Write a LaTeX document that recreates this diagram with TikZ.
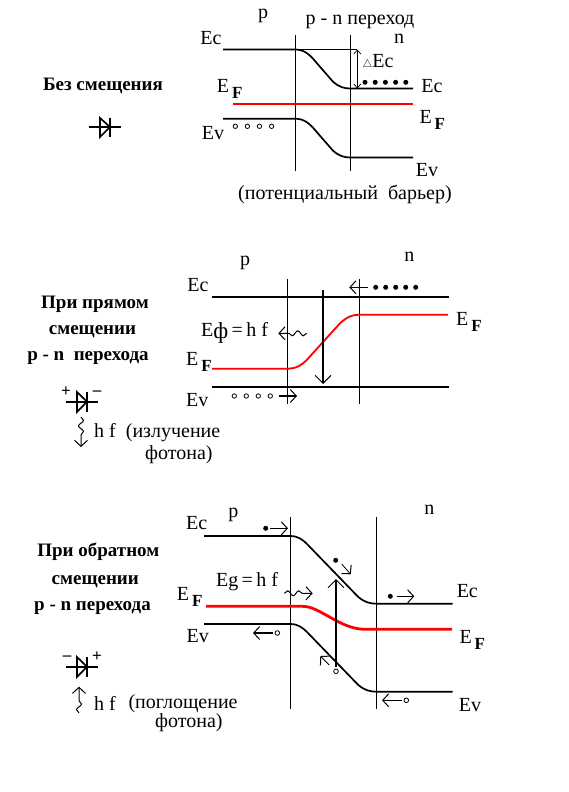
\documentclass[tikz,border=0pt]{standalone}
\usepackage{fontspec}
\setmainfont{Liberation Serif}
\usepackage{tikz}
\usetikzlibrary{arrows.meta, decorations.pathmorphing}

\newcommand{\EFermi}{E\hspace{3pt}\raisebox{-6pt}{\fontsize{17}{18}\selectfont\textbf{F}}}

\begin{document}
\begin{tikzpicture}[
    x=1pt, y=-1pt,
    every node/.style={inner sep=0pt, font=\fontsize{20}{22}\selectfont},
    lbl/.style={anchor=base, yshift=-1pt},
    lblw/.style={anchor=base west, yshift=-1pt},
    title/.style={anchor=base, font=\fontsize{19}{22}\selectfont\bfseries},
    sign/.style={anchor=base, font=\fontsize{17}{18}\selectfont\bfseries},
    band/.style={line width=1.7pt},
    fermi/.style={line width=2.7pt, red},
    junction/.style={line width=0.9pt},
    heavy/.style={line width=1.7pt},
    hole/.style={circle, draw, line width=0.8pt, minimum size=4.6pt},
    arr/.style={-{Straight Barb[length=6pt, width=13pt, line width=1pt]}, line width=1.4pt},
    bigarr/.style={-{Straight Barb[length=8pt, width=16pt, line width=1pt]}, line width=1.8pt},
    thinarr/.style={{Straight Barb[length=4pt, width=7pt]}-{Straight Barb[length=4pt, width=7pt]}, line width=0.7pt},
    photon/.style={-{Straight Barb[length=6pt, width=13pt, line width=1pt]}, line width=1pt, decorate, decoration={snake, segment length=11pt, amplitude=2.5pt, post length=9pt}}
]
    \useasboundingbox (0,0) rectangle (568,792);

    % Panel 1: no bias
    \node[title] (bias1) at (103,90) {Без смещения};
    \node[lbl] (p1) at (263,18) {p};
    \node[lbl] (junc1) at (360,24) {p - n переход};
    \node[lbl] (n1) at (399,42.7) {n};
    \node[lbl] (ecl1) at (211,43.5) {Ec};
    \node[lbl] (ecr1) at (432,91.7) {Ec};
    \node[lblw] (efl1) at (216.7,91.7) {\EFermi};
    \node[lblw] (efr1) at (419.3,122.7) {\EFermi};
    \node[lbl] (evl1) at (213,138.3) {Ev};
    \node[lbl] (evr1) at (427,175.7) {Ev};
    \node[lbl] (barrier) at (345,198.3) {(потенциальный\ \ барьер)};
    \node[lbl] (dec) at (378,66.7) {{\fontsize{11}{11}\selectfont$\triangle$}Ec};

    \draw[junction] (295.5,35) -- (295.5,170.7);
    \draw[junction] (350.7,35) -- (350.7,170.7);
    \draw[band] (223,49.5) -- (295.5,49.5) .. controls (305,49.5) and (311,56) .. (316.7,63) -- (333,81.7) .. controls (339,87) and (344,88.5) .. (350.7,88.5) -- (413,88.5);
    \draw[fermi] (232.7,104) -- (413,104);
    \draw[band] (223,118.7) -- (295.5,118.7) .. controls (305,118.7) and (311,125) .. (316.7,132) -- (333,150.7) .. controls (339,156) and (344,157.5) .. (350.7,157.5) -- (413,157.5);
    \coordinate (dectop) at (357.3,49.5);
    \coordinate (decbot) at (357.3,88.5);
    \draw[junction] (295.5,49.5) -- (dectop);
    \draw[thinarr] (dectop) -- (decbot);
    \fill (365,82.3) circle (2.5) ++(10.2,0) circle (2.5) ++(10.2,0) circle (2.5) ++(10.2,0) circle (2.5) ++(10.2,0) circle (2.5);
    \draw[line width=0.8pt] (235.3,126.3) circle (2.2) ++(12.1,0) circle (2.2) ++(12.1,0) circle (2.2) ++(12.1,0) circle (2.2);

    % Diode, panel 1
    \draw[heavy] (89,127) -- (121,127);
    \draw[heavy] (100,118) -- (100,137) -- (110,127) -- cycle;
    \draw[heavy] (110,118) -- (110,137);

    % Panel 2: forward bias
    \node[title] (bias2a) at (95,308) {При прямом};
    \node[title] (bias2b) at (92.5,334) {смещении};
    \node[title] (bias2c) at (88,360.7) {p - n\ \ перехода};
    \node[lbl] (p2) at (245,264) {p};
    \node[lbl] (n2) at (409.3,260.7) {n};
    \node[lbl] (ecl2) at (198,290.7) {Ec};
    \node[lblw] (eph) at (201,335.7) {E\raisebox{-2pt}{\fontsize{23}{24}\selectfont ф}\,=\,h f};
    \node[lblw] (efl2) at (186,364) {\EFermi};
    \node[lblw] (efr2) at (456,324) {\EFermi};
    \node[lbl] (evl2) at (197.3,405) {Ev};
    \node[lblw] (emit) at (94,436.7) {h f\ \ (излучение};
    \node[lblw] (phot2) at (145,458) {фотона)};
    \node[sign] (plus2) at (66,396) {+};
    \node[sign] (minus2) at (97,395) {–};

    \draw[junction] (287.3,279) -- (287.3,404.3);
    \draw[junction] (359.3,279) -- (359.3,404.3);
    \draw[band] (212,296.7) -- (449,296.7);
    \draw[line width=1.8pt, red] (212,368.7) -- (287.3,368.7) .. controls (296,368.7) and (302,365) .. (306.7,360) -- (340,323.3) .. controls (347,317) and (352,314.7) .. (359.3,314.7) -- (448,314.7);
    \draw[band] (212,386.7) -- (449,386.7);
    \coordinate (downtop) at (323,290);
    \coordinate (downbot) at (323,384);
    \draw[bigarr] (downtop) -- (downbot);
    \fill (375.7,287.3) circle (2.5) ++(10,0) circle (2.5) ++(10,0) circle (2.5) ++(10,0) circle (2.5) ++(10,0) circle (2.5);
    \coordinate (elstart) at (367.7,287.3);
    \coordinate (elend) at (349.3,287.3);
    \draw[arr] (elstart) -- (elend);
    \draw[line width=0.8pt] (234.3,396) circle (2.2) ++(12,0) circle (2.2) ++(12,0) circle (2.2) ++(12,0) circle (2.2);
    \coordinate (hstart) at (279,396);
    \coordinate (hend) at (297,396);
    \draw[arr] (hstart) -- (hend);
    \coordinate (phstart2) at (306.7,333.3);
    \coordinate (phend2) at (278.3,333.3);
    \draw[photon] (phstart2) -- (phend2);

    % Diode, panel 2
    \draw[heavy] (66,401.7) -- (98,401.7);
    \draw[heavy] (77,392) -- (77,412) -- (87,401.7) -- cycle;
    \draw[heavy] (87,392) -- (87,412);
    \coordinate (wstart2) at (81,417);
    \coordinate (wend2) at (81,447);
    \draw[photon] (wstart2) -- (wend2);

    % Panel 3: reverse bias
    \node[title] (bias3a) at (98.3,556) {При обратном};
    \node[title] (bias3b) at (95.3,584) {смещении};
    \node[title] (bias3c) at (92.5,610) {p - n перехода};
    \node[lbl] (p3) at (233.3,516) {p};
    \node[lbl] (n3) at (429.3,513.3) {n};
    \node[lbl] (ecl3) at (196.7,528.3) {Ec};
    \node[lblw] (egh) at (216,585) {Eg\,=\,h f};
    \node[lblw] (efl3) at (176.7,599.3) {\EFermi};
    \node[lbl] (ecr3) at (467.3,596.7) {Ec};
    \node[lblw] (efr3) at (459.3,642.7) {\EFermi};
    \node[lbl] (evl3) at (197.7,641.7) {Ev};
    \node[lbl] (evr3) at (470,710.7) {Ev};
    \node[lblw] (hf3) at (94,709.3) {h f};
    \node[lblw] (absorb) at (128.3,707.3) {(поглощение};
    \node[lblw] (phot3) at (155,726.7) {фотона)};
    \node[sign] (minus3) at (67,660) {–};
    \node[sign] (plus3) at (97,661) {+};

    \draw[junction] (290.5,517.3) -- (290.5,708.7);
    \draw[junction] (376.3,517.3) -- (376.3,708.7);
    \draw[band] (204,536) -- (290.5,536) .. controls (298,536) and (303,540) .. (307,544) -- (358,596.7) .. controls (364,602) and (370,603.7) .. (376.3,603.7) -- (452.7,603.7);
    \draw[line width=2.8pt, red] (206,606.3) -- (302.7,606.3) .. controls (320,606.3) and (340,629.3) .. (365,629.3) -- (452,629.3);
    \draw[band] (204,624) -- (290.5,624) .. controls (298,624) and (303,628) .. (307,632) -- (358,684.7) .. controls (364,690) and (370,691.7) .. (376.3,691.7) -- (452.7,691.7);
    \node[hole] (holeup) at (336,671.3) {};
    \coordinate (uptop) at (336,579);
    \draw[bigarr] (holeup.north) ++(0,-2) -- (uptop);

    % Carriers, panel 3
    \fill (265.7,528.3) circle (2.5) (335.7,560.3) circle (2.5) (390.3,596.3) circle (2.5);
    \coordinate (e1s) at (270,528.3);
    \coordinate (e1e) at (288,528.3);
    \draw[arr] (e1s) -- (e1e);
    \coordinate (e2s) at (341.7,564);
    \coordinate (e2e) at (350.7,574.3);
    \draw[arr, line width=0.8pt] (e2s) -- (e2e);
    \coordinate (e3s) at (397,596.3);
    \coordinate (e3e) at (414.3,596.3);
    \draw[arr] (e3s) -- (e3e);
    \node[hole] (h1) at (277.3,633) {};
    \coordinate (h1e) at (253,633);
    \draw[arr] (h1.west) ++(-2,0) -- (h1e);
    \coordinate (h2s) at (329.3,665);
    \coordinate (h2e) at (320.3,656);
    \draw[arr, line width=0.8pt] (h2s) -- (h2e);
    \node[hole] (h3) at (406.3,700.3) {};
    \coordinate (h3e) at (382,700.3);
    \draw[arr] (h3.west) ++(-2,0) -- (h3e);
    \coordinate (phstart3) at (284.3,593.3);
    \coordinate (phend3) at (312.7,593.3);
    \draw[photon] (phstart3) -- (phend3);

    % Diode, panel 3
    \draw[heavy] (66,666.7) -- (98,666.7);
    \draw[heavy] (77,657) -- (77,677) -- (87,666.7) -- cycle;
    \draw[heavy] (87,657) -- (87,677);
    \coordinate (wstart3) at (79,713);
    \coordinate (wend3) at (79,686.7);
    \draw[photon] (wstart3) -- (wend3);
\end{tikzpicture}
\end{document}
